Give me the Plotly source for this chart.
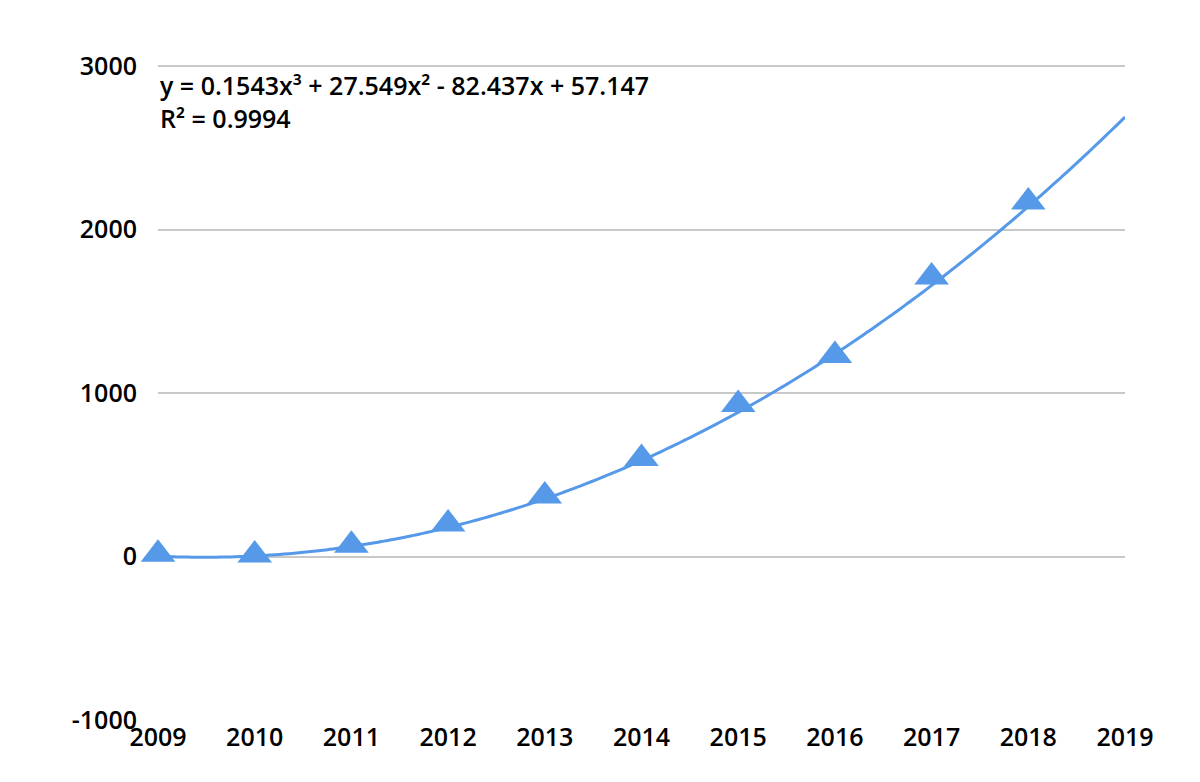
import numpy as np
import plotly.graph_objects as go

years = [2009, 2010, 2011, 2012, 2013, 2014, 2015, 2016, 2017, 2018]
values = [15, 10, 70, 200, 370, 600, 930, 1230, 1710, 2170]
coef = [0.1543, 27.549, -82.437, 57.147]  # cubic trendline coefficients (x = 1..)
tick_years = list(range(2009, 2020))
y_ticks = [-1000, 0, 1000, 2000, 3000]
y_labels = ["-1000", "0", "1000", "2000", "3000"]

xs = np.linspace(1, 11, 200)
ys = np.polyval(coef, xs)

fig = go.Figure()
fig.add_trace(go.Scatter(x=xs + 2008, y=ys, mode="lines",
                         line=dict(color="#5599e8", width=3, shape="spline"), hoverinfo="skip"))
fig.add_trace(go.Scatter(x=years, y=values, mode="markers", cliponaxis=False,
                         marker=dict(symbol="triangle-up", size=30, color="#5599e8")))
fig.add_annotation(x=0, xref="paper", y=3000, yref="y", yanchor="top", xanchor="left",
                   align="left", showarrow=False,
                   text="y = 0.1543x³ + 27.549x² - 82.437x + 57.147<br>R² = 0.9994",
                   font=dict(size=25, color="black", weight=600))
fig.update_layout(
    width=1200, height=782, showlegend=False,
    plot_bgcolor="white", paper_bgcolor="white",
    margin=dict(l=150, r=83, t=57, b=70, autoexpand=False),
    font=dict(family="Open Sans", size=25, color="black", weight=600),
    xaxis=dict(range=[2009, 2019], tickvals=tick_years, showgrid=False, zeroline=False,
               showline=False, ticks="", automargin=False),
    yaxis=dict(range=[-1000, 3008], tickvals=y_ticks, ticktext=y_labels, showgrid=True,
               gridcolor="#c8c8c8", gridwidth=1.5, zeroline=False, ticks="",
               ticklabelstandoff=20, automargin=False),
)
fig.write_html("out.html")
